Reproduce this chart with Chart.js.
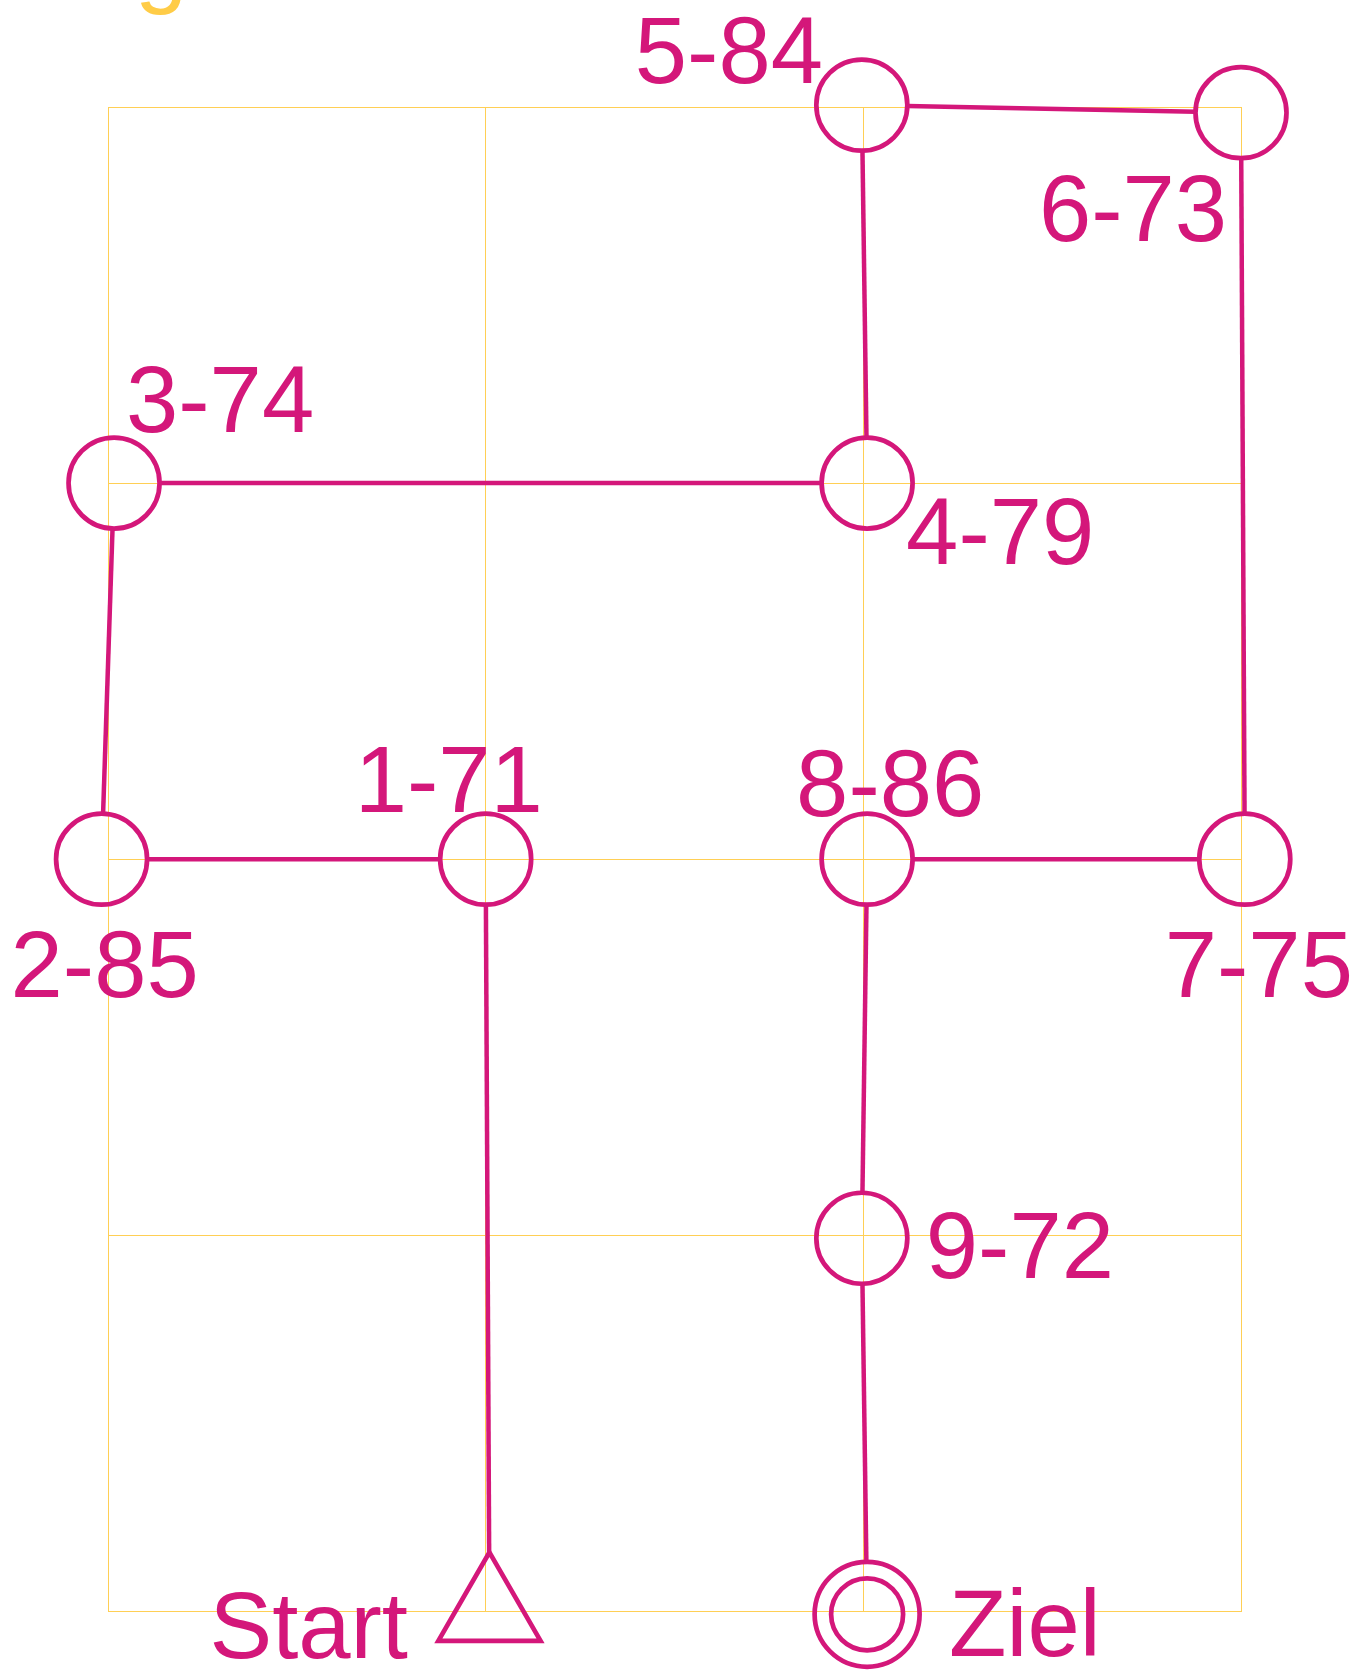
<!DOCTYPE html>
<html>
<head>
<meta charset="utf-8">
<script src="https://cdn.jsdelivr.net/npm/chart.js@4.4.1/dist/chart.umd.min.js"></script>
<style>
  html, body { margin: 0; padding: 0; background: #fff; }
  canvas { display: block; }
</style>
</head>
<body>
<canvas id="course" width="1371" height="1675"></canvas>
<script>
// course controls, in grid units (3 x 4 grid)
let controlNames = ["Start", "1-71", "2-85", "3-74", "4-79", "5-84", "6-73", "7-75", "8-86", "9-72", "Ziel"];
let controlX = [1.01, 1.0, -0.017, 0.016, 2.01, 1.996, 3.0, 3.01, 2.01, 1.996, 2.01];
let controlY = [0, 2.0, 2.0, 3.0, 3.0, 4.005, 3.985, 2.0, 2.0, 0.992, -0.008];
let xTicks = [0, 1, 2, 3];
let yTicks = [0, 1, 2, 3, 4];

let magenta = "#D4177A";
let yellow = "#FFCF55";

// label offsets from the control centre (left edge, baseline)
let labelOffsets = [
    [-280, 47], [-131, -47], [-91, 138], [12, -51], [39, 81], [-227, -22],
    [-202, 128], [-80, 138], [-71, -43], [64, 40], [82, 42]
];

let last = controlNames.length - 1;

const courseLines = {
    id: "courseLines",
    afterDatasetsDraw(chart) {
        const pts = chart.getDatasetMeta(0).data;
        const ctx = chart.ctx;
        ctx.save();
        ctx.strokeStyle = magenta;
        ctx.lineWidth = 4.5;
        for (let i = 0; i < pts.length - 1; i++) {
            const a = pts[i], b = pts[i + 1];
            const dx = b.x - a.x, dy = b.y - a.y;
            const len = Math.hypot(dx, dy);
            const ra = a.options.radius, rb = b.options.radius;
            ctx.beginPath();
            ctx.moveTo(a.x + dx / len * ra, a.y + dy / len * ra);
            ctx.lineTo(b.x - dx / len * rb, b.y - dy / len * rb);
            ctx.stroke();
        }

        ctx.fillStyle = magenta;
        ctx.font = "94px 'Liberation Sans', Arial, sans-serif";
        ctx.textAlign = "left";
        ctx.textBaseline = "alphabetic";
        pts.forEach((p, i) => {
            ctx.fillText(controlNames[i], p.x + labelOffsets[i][0], p.y + labelOffsets[i][1]);
        });

        // tail of the cut-off title above the map
        ctx.fillStyle = "#FFCC47";
        ctx.fillText("g", 135, -5);
        ctx.restore();
    }
};

new Chart("course", {
    type: "scatter",
    data: {
        datasets: [{
            data: controlX.map((x, i) => ({ x: x, y: controlY[i] })),
            showLine: false,
            clip: false,
            pointStyle: ctx => ctx.dataIndex === 0 ? "triangle" : "circle",
            pointRadius: ctx => ctx.dataIndex === 0 ? 59 : (ctx.dataIndex === last ? 52.5 : 45.5),
            pointBorderWidth: 4.7,
            pointBorderColor: magenta,
            pointBackgroundColor: "rgba(0,0,0,0)"
        }, {
            // inner ring of the finish
            data: [{ x: controlX[last], y: controlY[last] }],
            clip: false,
            pointStyle: "circle",
            pointRadius: 36,
            pointBorderWidth: 4.7,
            pointBorderColor: magenta,
            pointBackgroundColor: "rgba(0,0,0,0)"
        }]
    },
    options: {
        responsive: false,
        animation: false,
        events: [],
        devicePixelRatio: 1,
        layout: { padding: { left: 108, top: 107, right: 130, bottom: 56 } },
        plugins: {
            legend: { display: false },
            tooltip: { enabled: false }
        },
        scales: {
            x: {
                type: "linear",
                min: 0,
                max: 3,
                afterBuildTicks: axis => { axis.ticks = xTicks.map(v => ({ value: v })); },
                ticks: { display: false },
                grid: { color: yellow, lineWidth: 1, drawTicks: false },
                border: { color: yellow, width: 1 }
            },
            y: {
                type: "linear",
                min: 0,
                max: 4,
                afterBuildTicks: axis => { axis.ticks = yTicks.map(v => ({ value: v })); },
                ticks: { display: false },
                grid: { color: yellow, lineWidth: 1, drawTicks: false },
                border: { color: yellow, width: 1 }
            }
        }
    },
    plugins: [courseLines]
});
</script>
</body>
</html>
